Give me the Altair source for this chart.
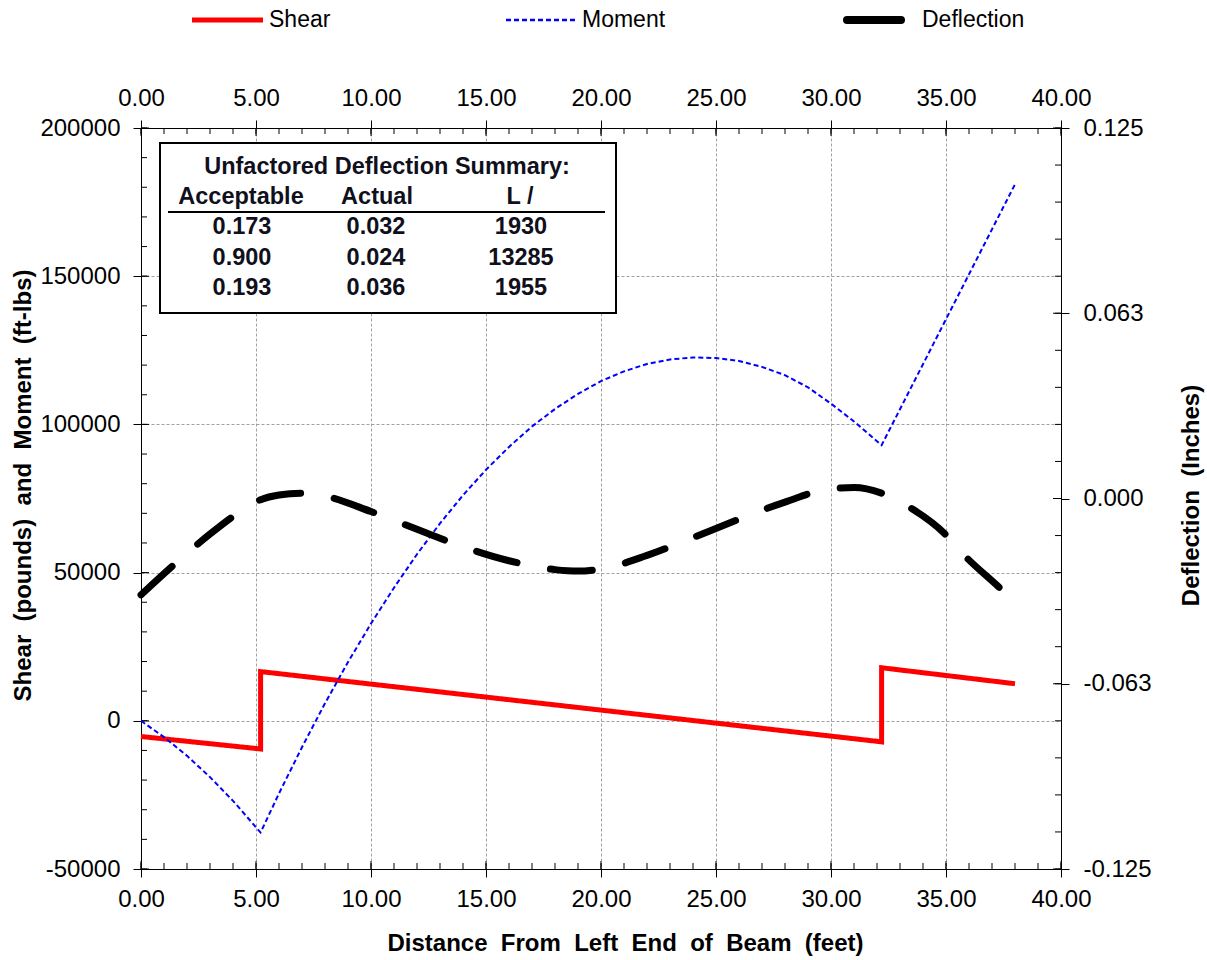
import altair as alt
import pandas as pd

FONT = "Liberation Sans"

# ---- series ----
series_names = ["Shear", "Moment", "Deflection"]
series_colors = ["#ff0000", "#0000ff", "#000000"]
series_dashes = [[1, 0], [5, 3], [42, 34]]

shear_x = [0, 5.2, 5.2, 32.2, 32.2, 38.0]
shear_v = [-5300, -9500, 16600, -7100, 17900, 12500]

moment_x = [0, 1, 2, 3, 4, 5.2, 6, 7, 8, 9, 10, 11, 12, 13, 14, 15, 16, 17, 18, 19, 20, 21, 22, 23,
            24, 25, 26, 27, 28, 29, 30, 31, 32.2, 38.0]
moment_v = [0, -5500, -11800, -19000, -27000, -37700, -24500, -8900, 5900, 19800, 32800, 44900,
            56200, 66600, 76100, 84700, 92400, 99300, 105200, 110300, 114600, 117900, 120400,
            121900, 122600, 122400, 121400, 119400, 116600, 112500, 107000, 101000, 93000, 181000]

defl_x = [0, 1.6, 3.0, 4.2, 5.2, 6.0, 7.0, 8.0, 10, 12, 14, 16, 18, 19, 20, 22, 24, 26, 28, 30,
          31, 32.2, 33.4, 35.0, 35.7, 37.3, 38.0]
defl_v = [-0.0325, -0.0212, -0.0120, -0.0050, -0.0004, 0.0012, 0.0018, 0.0008, -0.0044, -0.0104,
          -0.0163, -0.0210, -0.0240, -0.0245, -0.0238, -0.0192, -0.0132, -0.0070, -0.0012, 0.0033,
          0.0037, 0.0018, -0.0029, -0.0123, -0.0184, -0.0299, -0.0350]

# ---- ticks ----
x_major = [0, 5, 10, 15, 20, 25, 30, 35, 40]
x_minor = list(range(0, 41))
left_major = [-50000, 0, 50000, 100000, 150000, 200000]
left_minor = list(range(-50000, 200001, 10000))
right_major = [-0.125, -0.0625, 0.0, 0.0625, 0.125]
right_minor = [round(-0.125 + 0.0125 * i, 4) for i in range(21)]

# ---- summary table ----
table_title = "Unfactored Deflection Summary:"
table_head = ["Acceptable", "Actual", "L /"]
col_acceptable = ["0.173", "0.900", "0.193"]
col_actual = ["0.032", "0.024", "0.036"]
col_lover = ["1930", "13285", "1955"]

W, H = 920, 741
SP = " \u00a0"

shear_df = pd.DataFrame({"x": shear_x, "v": shear_v, "i": range(len(shear_x)), "s": "Shear"})
moment_df = pd.DataFrame({"x": moment_x, "v": moment_v, "i": range(len(moment_x)), "s": "Moment"})
defl_df = pd.DataFrame({"x": defl_x, "d": defl_v, "i": range(len(defl_x)), "s": "Deflection"})

xscale = alt.Scale(domain=[0, 40], nice=False, zero=False)
ylscale = alt.Scale(domain=[-50000, 200000], nice=False, zero=False)
yrscale = alt.Scale(domain=[-0.125, 0.125], nice=False, zero=False)
cscale = alt.Scale(domain=series_names, range=series_colors)
dscale = alt.Scale(domain=series_names, range=series_dashes)

minus_fix = "replace(datum.label, '\u2212', '-')"

x_bottom = alt.X("x:Q", scale=xscale, axis=alt.Axis(
    orient="bottom", values=x_major, format=".2f", grid=True, labelPadding=10,
    title=SP.join(["Distance", "From", "Left", "End", "of", "Beam", "(feet)"]),
    titleX=484, titleY=81, titleBaseline="alphabetic", titleAlign="center"))
x_top = alt.X("x:Q", scale=xscale, axis=alt.Axis(
    orient="top", values=x_major, format=".2f", grid=False, labelPadding=10, title=None))
y_left = alt.Y("v:Q", scale=ylscale, axis=alt.Axis(
    orient="left", values=left_major, format="d", grid=True, labelPadding=13, labelExpr=minus_fix,
    title=SP.join(["Shear", "(pounds)", "and", "Moment", "(ft-lbs)"]),
    titleX=-111, titleY=357, titleAngle=270, titleBaseline="alphabetic", titleAlign="center"))
y_right = alt.Y("d:Q", scale=yrscale, axis=alt.Axis(
    orient="right", values=right_major, format=".3f", grid=False, labelPadding=14, labelExpr=minus_fix,
    title=SP.join(["Deflection", "(Inches)"]),
    titleX=137, titleY=367, titleAngle=270, titleBaseline="alphabetic", titleAlign="center"))

shear = alt.Chart(shear_df).mark_line(strokeWidth=5).encode(
    x=x_bottom, y=y_left, order="i:Q",
    color=alt.Color("s:N", scale=cscale, legend=None),
    strokeDash=alt.StrokeDash("s:N", scale=dscale, legend=None),
)
moment = alt.Chart(moment_df).mark_line(strokeWidth=2).encode(
    x=alt.X("x:Q", scale=xscale), y=alt.Y("v:Q", scale=ylscale), order="i:Q",
    color=alt.Color("s:N", scale=cscale, legend=None),
    strokeDash=alt.StrokeDash("s:N", scale=dscale, legend=None),
)
deflection = alt.Chart(defl_df).mark_line(strokeWidth=7, strokeCap="round", interpolate="monotone").encode(
    x=x_top, y=y_right, order="i:Q",
    color=alt.Color("s:N", scale=cscale, legend=None),
    strokeDash=alt.StrokeDash("s:N", scale=dscale, legend=None),
)

ONE = pd.DataFrame({"a": [0]})


def xtick(vals, y0, y1):
    return alt.Chart(pd.DataFrame({"t": vals})).mark_rule(color="black", strokeWidth=1).encode(
        x=alt.X("t:Q", scale=xscale), y=alt.value(y0), y2=alt.value(y1))


def yltick(vals, x0, x1):
    return alt.Chart(pd.DataFrame({"t": vals})).mark_rule(color="black", strokeWidth=1).encode(
        y=alt.Y("t:Q", scale=ylscale), x=alt.value(x0), x2=alt.value(x1))


def yrtick(vals, x0, x1):
    return alt.Chart(pd.DataFrame({"t": vals})).mark_rule(color="black", strokeWidth=1).encode(
        y=alt.Y("t:Q", scale=yrscale), x=alt.value(x0), x2=alt.value(x1))


# ---- legend (above the plot) ----
LEG_Y = -108
leg_lines = [(51, 122, 5, "butt"), (365, 435, 2.5, "butt"), (706, 760, 8, "round")]
leg_text_x = [128, 441, 781]
legend_layers = []
for name, col, dash, (a, b, w, cap), tx in zip(series_names, series_colors, series_dashes, leg_lines, leg_text_x):
    legend_layers.append(alt.Chart(ONE).mark_rule(color=col, strokeWidth=w, strokeDash=dash if name == "Moment" else [1, 0],
                                                  strokeCap=cap).encode(
        x=alt.value(a), x2=alt.value(b), y=alt.value(LEG_Y)))
    legend_layers.append(alt.Chart(ONE).mark_text(font=FONT, fontSize=23, color="black", align="left",
                                                  baseline="middle").encode(
        x=alt.value(tx), y=alt.value(LEG_Y), text=alt.value(name)))

# ---- summary table ----
TXT = dict(font=FONT, fontSize=23.5, fontWeight="bold", color="#10101c", align="center", baseline="middle")

box = alt.Chart(ONE).mark_rect(fill="white", stroke="black", strokeWidth=2).encode(
    x=alt.value(19), x2=alt.value(475), y=alt.value(15), y2=alt.value(185))
underline = alt.Chart(ONE).mark_rule(color="black", strokeWidth=2).encode(
    x=alt.value(27), x2=alt.value(464), y=alt.value(84))
t_title = alt.Chart(ONE).mark_text(**TXT).encode(
    x=alt.value(246), y=alt.value(39), text=alt.value(table_title))
heads = [alt.Chart(ONE).mark_text(**TXT).encode(
    x=alt.value(px), y=alt.value(69), text=alt.value(h)) for px, h in zip([100, 236, 379], table_head)]
cols = [alt.Chart(ONE).mark_text(lineHeight=30.5, **TXT).encode(
    x=alt.value(px), y=alt.value(99), text=alt.value(c))
    for px, c in zip([101, 235, 380], [col_acceptable, col_actual, col_lover])]

left = alt.layer(
    shear,
    xtick(x_minor, 0, 6), xtick(x_major, 0, 8), xtick(x_minor, H - 6, H), xtick(x_major, H - 8, H),
    yltick(left_minor, 0, 6), yltick(left_major, 0, 8),
    box, underline, t_title, *heads, *cols,
    *legend_layers,
    moment,
)
right = alt.layer(
    deflection,
    yrtick(right_minor, W - 6, W), yrtick(right_major, W - 8, W),
)

chart = alt.layer(left, right).resolve_scale(y="independent").resolve_axis(x="independent").properties(
    width=W, height=H, autosize=alt.AutoSizeParams(type="none"),
    padding={"left": 141, "top": 128, "right": 146, "bottom": 91},
    background="white",
).configure_view(strokeWidth=0).configure(font=FONT).configure_axis(
    domainColor="black", domainWidth=1, tickColor="black", tickSize=8, tickWidth=1,
    labelFont=FONT, labelFontSize=24, labelColor="black", labelFlush=False, labelOverlap=False,
    titleFont=FONT, titleFontSize=24, titleFontWeight="bold", titleColor="black",
    gridColor="#a0a0a0", gridDash=[3, 2], gridWidth=1,
)

chart.save("out.html", embed_options={"renderer": "svg", "actions": False})
